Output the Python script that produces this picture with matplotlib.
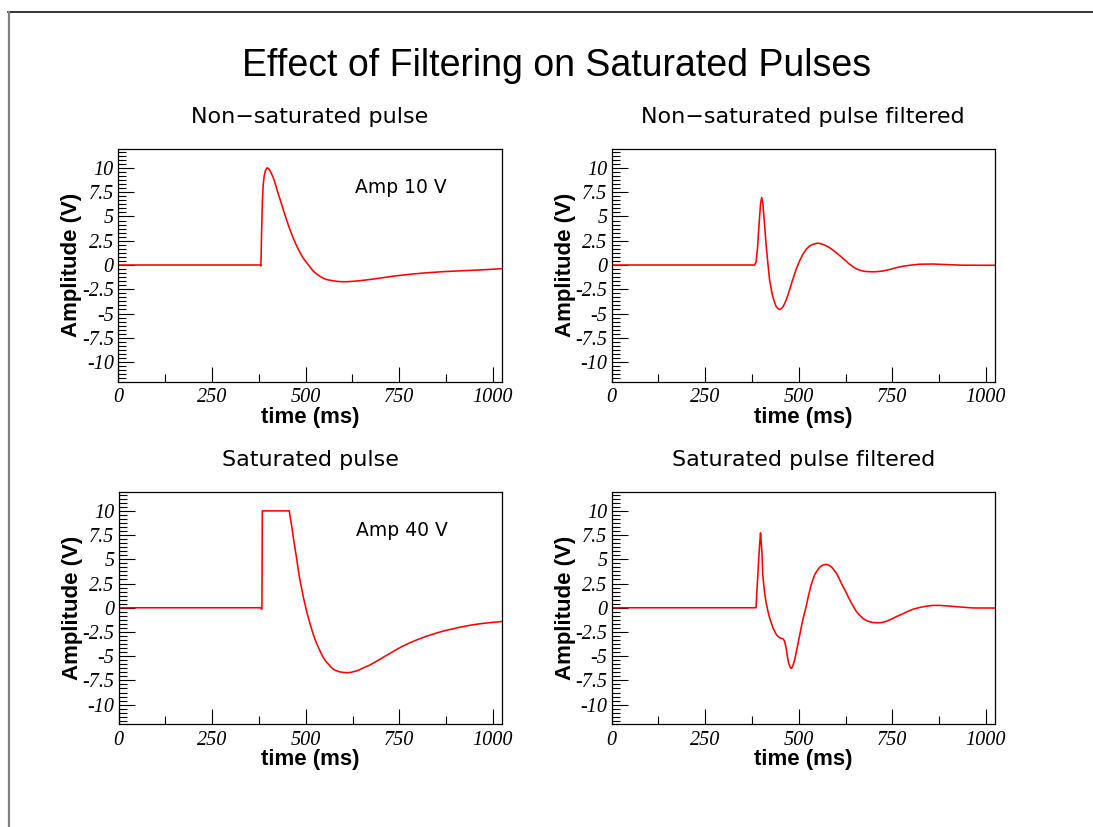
import matplotlib
matplotlib.use("Agg")
import matplotlib.pyplot as plt
from matplotlib.lines import Line2D
from matplotlib.ticker import FixedLocator, MultipleLocator

# ---- pulse data (time in ms, amplitude in V) ----
t_raw = [0, 380, 381, 383, 385, 387, 390, 393, 396, 398,
         401, 404, 408, 413, 418, 424, 431, 440, 449, 458,
         467, 476, 485, 494, 503, 512, 520, 529, 538, 547,
         556, 570, 583, 596, 610, 623, 636, 660, 690, 734,
         780, 823, 870, 913, 970, 1024]
v_raw = [0, 0, -0.1, 3.5, 6.5, 8.2, 9.2, 9.7, 9.95, 10.0,
         9.95, 9.8, 9.5, 9.1, 8.55, 7.75, 6.9, 5.8, 4.7, 3.7,
         2.8, 2.0, 1.3, 0.7, 0.25, -0.2, -0.6, -0.9, -1.15, -1.35,
         -1.5, -1.6, -1.68, -1.72, -1.72, -1.69, -1.65, -1.55, -1.4, -1.15,
         -0.95, -0.8, -0.68, -0.6, -0.5, -0.38]

t_filt = [0, 382, 386, 390, 394, 398, 401, 404, 408, 413,
          418, 422, 427, 431, 436, 440, 445, 449, 453, 458,
          462, 467, 471, 476, 484, 493, 502, 511, 520, 529,
          538, 546, 551, 556, 564, 573, 582, 591, 600, 609,
          618, 627, 636, 645, 653, 662, 671, 680, 689, 698,
          707, 724, 742, 760, 778, 796, 822, 858, 902, 938,
          1024]
v_filt = [0, 0, 0.3, 1.8, 4.2, 6.3, 6.95, 6.4, 4.5, 2.0,
          0.0, -1.5, -2.6, -3.3, -3.9, -4.3, -4.5, -4.58, -4.5, -4.3,
          -4.0, -3.55, -3.1, -2.5, -1.5, -0.45, 0.4, 1.1, 1.62, 1.95,
          2.13, 2.22, 2.24, 2.22, 2.13, 1.98, 1.79, 1.55, 1.27, 0.98,
          0.69, 0.38, 0.07, -0.18, -0.38, -0.52, -0.62, -0.67, -0.69, -0.70,
          -0.69, -0.62, -0.47, -0.28, -0.13, -0.03, 0.08, 0.1, 0.03, -0.02,
          -0.03]

t_sat = [0, 380, 382, 383, 384, 456, 459, 463, 467, 471,
         476, 480, 485, 490, 494, 499, 503, 508, 512, 520,
         527, 534, 541, 547, 554, 561, 567, 574, 583, 592,
         601, 610, 619, 628, 641, 654, 672, 690, 712, 734,
         757, 779, 801, 824, 846, 868, 890, 913, 940, 966,
         996, 1024]
v_sat = [0, 0, -0.15, -0.1, 10, 10, 9.2, 8.3, 7.2, 6.2,
         5.0, 3.9, 2.75, 1.8, 1.03, 0.2, -0.5, -1.15, -1.72, -2.75,
         -3.5, -4.12, -4.7, -5.15, -5.55, -5.84, -6.1, -6.36, -6.52, -6.63,
         -6.68, -6.7, -6.68, -6.6, -6.45, -6.2, -5.9, -5.5, -5.0, -4.5,
         -4.0, -3.6, -3.25, -2.92, -2.65, -2.4, -2.2, -2.0, -1.8, -1.65,
         -1.52, -1.42]

t_sat_filt = [0, 386, 389, 393, 396, 398, 402, 404, 409, 413,
              418, 422, 427, 431, 436, 440, 445, 449, 453, 458,
              462, 465, 467, 469, 471, 473, 476, 478, 480, 482,
              484, 489, 493, 498, 502, 507, 511, 516, 520, 524,
              529, 533, 538, 542, 547, 556, 564, 570, 575, 581,
              587, 593, 600, 607, 613, 620, 627, 633, 640, 647,
              653, 660, 667, 673, 680, 689, 698, 707, 716, 724,
              733, 742, 751, 764, 778, 791, 804, 818, 831, 845,
              858, 876, 900, 930, 965, 1024]
v_sat_filt = [0, 0, 2.2, 5.0, 6.8, 7.73, 5.5, 3.3, 1.5, 0.5,
              -0.4, -1.03, -1.6, -2.06, -2.45, -2.75, -2.97, -3.09, -3.16, -3.2,
              -3.44, -3.9, -4.3, -4.85, -5.33, -5.7, -6.02, -6.18, -6.26, -6.18,
              -6.02, -5.4, -4.64, -3.7, -2.92, -1.95, -1.2, -0.45, 0.17, 0.9,
              1.72, 2.35, 2.92, 3.35, 3.71, 4.19, 4.4, 4.46, 4.47, 4.38,
              4.22, 3.95, 3.6, 3.1, 2.58, 2.05, 1.55, 1.05, 0.52, 0.06,
              -0.34, -0.66, -0.93, -1.14, -1.31, -1.44, -1.52, -1.55, -1.55, -1.5,
              -1.41, -1.27, -1.1, -0.86, -0.62, -0.38, -0.17, -0.02, 0.1, 0.18,
              0.24, 0.24, 0.18, 0.08, -0.02, -0.03]

panel_titles = ["Non\u2212saturated pulse", "Non\u2212saturated pulse filtered",
                "Saturated pulse", "Saturated pulse filtered"]
amp_notes = ["Amp 10 V", None, "Amp 40 V", None]

x_ticks = [0, 250, 500, 750, 1000]
x_ticklabels = ["0", "250", "500", "750", "1000"]
y_ticks = [-10, -7.5, -5, -2.5, 0, 2.5, 5, 7.5, 10]
y_ticklabels = ["-10", "-7.5", "-5", "-2.5", "0", "2.5", "5", "7.5", "10"]

W, H = 1093, 827
fig = plt.figure(figsize=(W / 100, H / 100), dpi=100)
fig.patch.set_facecolor("white")

# canvas frame lines
fig.add_artist(Line2D([8 / W, 1], [1 - 12 / H, 1 - 12 / H], color="#111111",
                      lw=1.2, transform=fig.transFigure))
fig.add_artist(Line2D([8.5 / W, 8.5 / W], [0, 1 - 12 / H], color="#808080",
                      lw=1.6, transform=fig.transFigure))

fig.text(557 / W, 1 - 66 / H, "Effect of Filtering on Saturated Pulses",
         ha="center", va="center", fontsize=27, family="Liberation Sans")

# pixel boxes (left, top, right, bottom)
boxes = [(118, 148.5, 502, 381.5), (611.5, 148.5, 995, 381.5),
         (118.5, 491.5, 502, 724), (611.5, 491.5, 995, 724)]
series = [(t_raw, v_raw), (t_filt, v_filt), (t_sat, v_sat), (t_sat_filt, v_sat_filt)]

for i, ((l, tp, r, b), (tt, vv)) in enumerate(zip(boxes, series)):
    ax = fig.add_axes([l / W, 1 - b / H, (r - l) / W, (b - tp) / H])
    ax.plot(tt, vv, color="#ff0000", lw=1.15, solid_joinstyle="round")
    ax.set_xlim(0, 1024)
    ax.set_ylim(-12, 12)
    for sp in ax.spines.values():
        sp.set_linewidth(0.9)
        sp.set_color("black")
    ax.xaxis.set_major_locator(FixedLocator(x_ticks))
    ax.xaxis.set_minor_locator(MultipleLocator(125))
    ax.yaxis.set_major_locator(FixedLocator(y_ticks))
    ax.yaxis.set_minor_locator(MultipleLocator(2.5 / 6))
    ax.set_xticklabels(x_ticklabels)
    ax.set_yticklabels(y_ticklabels)
    ax.tick_params(axis="both", which="both", direction="in", top=False, right=False,
                   width=0.8, color="black")
    ax.tick_params(axis="x", which="major", length=11, pad=5)
    ax.tick_params(axis="x", which="minor", length=5.5)
    ax.tick_params(axis="y", which="major", length=11.5, pad=3)
    ax.tick_params(axis="y", which="minor", length=5.5)
    for lab in ax.get_xticklabels() + ax.get_yticklabels():
        lab.set_fontfamily("Liberation Serif")
        lab.set_fontstyle("italic")
        lab.set_fontsize(14.5)

    cx = (l + r) / 2
    fig.text(cx / W, 1 - (tp - 31.5) / H, panel_titles[i], ha="center", va="center",
             fontsize=16, family="DejaVu Sans")
    fig.text(cx / W, 1 - (b + 35.5) / H, "time (ms)", ha="center", va="center",
             fontsize=16, fontweight="bold", family="Liberation Sans")
    fig.text((l - 46) / W, 1 - ((tp + b) / 2) / H, "Amplitude (V)", ha="center",
             va="center", rotation=90, fontsize=16, fontweight="bold",
             family="Liberation Sans")
    if amp_notes[i]:
        fig.text((l + 237) / W, 1 - (tp + 39) / H, amp_notes[i], ha="left",
                 va="center", fontsize=13.5, family="DejaVu Sans")

fig.savefig("out.png", dpi=100, facecolor="white")
